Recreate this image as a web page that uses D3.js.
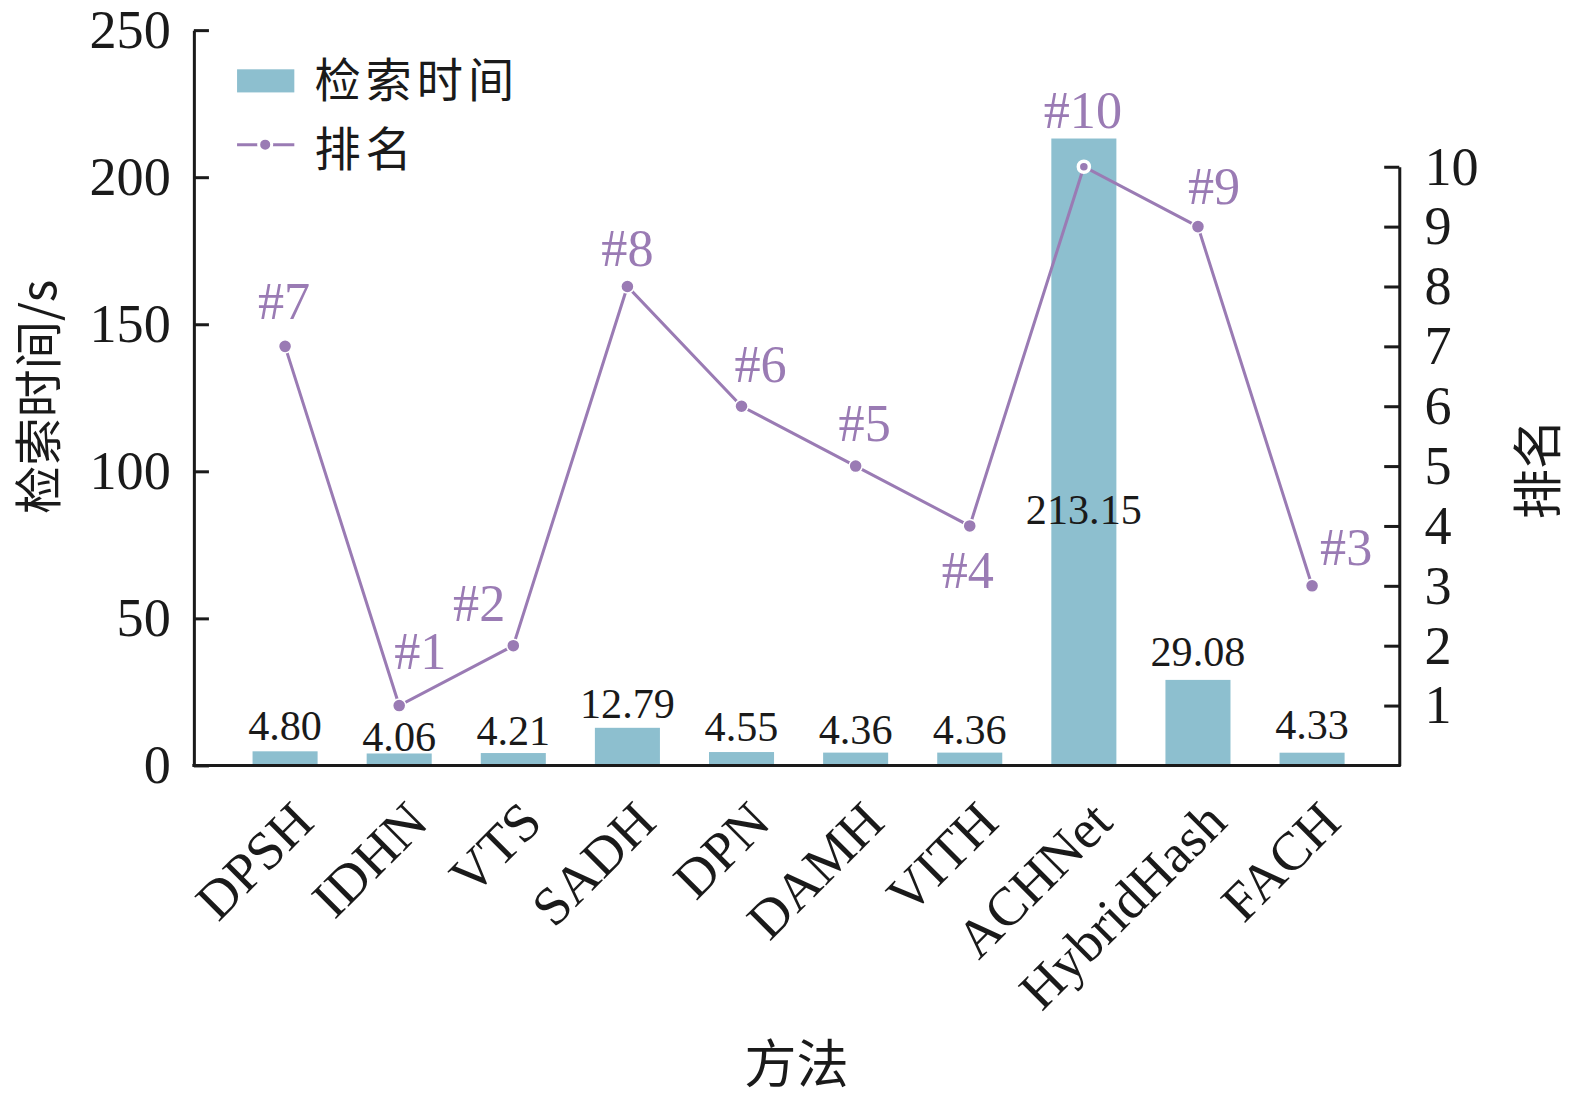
<!DOCTYPE html>
<html>
<head>
<meta charset="utf-8">
<script src="https://cdn.jsdelivr.net/npm/d3@7"></script>
<style>
  html, body { margin: 0; padding: 0; background: #fff; overflow: hidden; }
  svg { display: block; }
  text { font-family: "Liberation Serif", "Times New Roman", "Noto Sans CJK SC", serif; }
  .cjk { font-family: "Noto Sans CJK SC", "Liberation Serif", serif; }
</style>
</head>
<body>
<div id="viz-container"></div>
<script>
// data
let methods = ["DPSH", "IDHN", "VTS", "SADH", "DPN", "DAMH", "VITH", "ACHNet", "HybridHash", "FACH"];
let searchTime = [4.80, 4.06, 4.21, 12.79, 4.55, 4.36, 4.36, 213.15, 29.08, 4.33];
let ranks = [7, 1, 2, 8, 6, 5, 4, 10, 9, 3];
let leftTicks = [0, 50, 100, 150, 200, 250];
let rightTicks = [1, 2, 3, 4, 5, 6, 7, 8, 9, 10];

// label nudges (layout only)
let valueDy = [-11, -2, -8, -10, -11, -9, -9, 384, -14, -14];
let rankDx = [-1, 21, -34, 0, 19, 9, -2, -1, 16, 34];
let rankDy = [-27, -36, -25, -20, -24, -25, 62, -39, -23, -21];

let barColor = "#8dbfcf";
let lineColor = "#9a7bb4";
let axisColor = "#1a1a1a";

let W = 1575, H = 1100;
let plotLeft = 193, plotRight = 1393, plotTop = 30, plotBottom = 762;

let svg = d3.select("#viz-container")
  .append("svg")
    .attr("width", W)
    .attr("height", H)
;
let viz = svg.append("g").attr("transform", "scale(1.0045)");

// step 113.6, first centre near 284
let x = d3.scaleBand()
  .domain(methods)
  .range([227, 1363])
  .paddingInner(0.43)
  .paddingOuter(0.215);

let y = d3.scaleLinear().domain([0, 250]).range([plotBottom, plotTop]);
let yR = d3.scaleLinear().domain([0, 10]).range([plotBottom, 166]);

function cx(d){ return x(d) + x.bandwidth() / 2; }

// bars
viz.selectAll(".bar").data(methods).enter()
  .append("rect")
    .attr("class", "bar")
    .attr("x", d => x(d))
    .attr("width", x.bandwidth())
    .attr("y", (d, i) => y(searchTime[i]))
    .attr("height", (d, i) => plotBottom - y(searchTime[i]))
    .attr("fill", barColor)
;

// value labels
viz.selectAll(".val").data(methods).enter()
  .append("text")
    .attr("class", "val")
    .attr("x", cx)
    .attr("y", (d, i) => y(searchTime[i]) + valueDy[i])
    .attr("text-anchor", "middle")
    .attr("font-size", 42)
    .attr("fill", "#1a1a1a")
    .text((d, i) => searchTime[i].toFixed(2))
;

// rank line
let line = d3.line()
  .x(d => cx(d))
  .y((d, i) => yR(ranks[i]));

viz.append("path")
  .datum(methods)
  .attr("d", line)
  .attr("fill", "none")
  .attr("stroke", lineColor)
  .attr("stroke-width", 3)
;

viz.selectAll(".pt").data(methods).enter()
  .append("circle")
    .attr("class", "pt")
    .attr("cx", cx)
    .attr("cy", (d, i) => yR(ranks[i]))
    .attr("r", (d, i) => ranks[i] == 10 ? 5.5 : 6.5)
    .attr("fill", lineColor)
    .attr("stroke", "#fff")
    .attr("stroke-width", (d, i) => ranks[i] == 10 ? 3.5 : 1.5)
;

viz.selectAll(".rank").data(methods).enter()
  .append("text")
    .attr("class", "rank")
    .attr("x", (d, i) => cx(d) + rankDx[i])
    .attr("y", (d, i) => yR(ranks[i]) + rankDy[i])
    .attr("text-anchor", "middle")
    .attr("font-size", 52)
    .attr("fill", lineColor)
    .text((d, i) => "#" + ranks[i])
;

// axes
let axL = viz.append("g")
  .attr("transform", "translate(" + plotLeft + ",0)")
  .call(d3.axisLeft(y).tickValues(leftTicks).tickSizeInner(-15).tickSizeOuter(0).tickPadding(23));

let axR = viz.append("g")
  .attr("transform", "translate(" + plotRight + ",0)")
  .call(d3.axisRight(yR).tickValues(rightTicks).tickSizeInner(-15).tickSizeOuter(0).tickPadding(25));

[axL, axR].forEach(function(ax){
  ax.select(".domain").attr("stroke", axisColor).attr("stroke-width", 3);
  ax.selectAll(".tick line").attr("stroke", axisColor).attr("stroke-width", 3);
  ax.selectAll(".tick text")
    .attr("font-size", 54)
    .attr("fill", "#1a1a1a")
    .attr("font-family", "Liberation Serif, Times New Roman, serif");
});

viz.append("line")
  .attr("x1", plotLeft - 1.5)
  .attr("x2", plotRight + 1.5)
  .attr("y1", plotBottom)
  .attr("y2", plotBottom)
  .attr("stroke", axisColor)
  .attr("stroke-width", 3)
;

// category labels
viz.selectAll(".cat").data(methods).enter()
  .append("text")
    .attr("class", "cat")
    .attr("transform", d => "translate(" + (cx(d) + 31) + "," + 821 + ") rotate(-45)")
    .attr("text-anchor", "end")
    .attr("font-size", 54)
    .attr("fill", "#1a1a1a")
    .text(d => d)
;

// axis titles
viz.append("text")
  .attr("class", "cjk")
  .attr("transform", "translate(56,395) rotate(-90)")
  .attr("text-anchor", "middle")
  .attr("font-size", 48)
  .attr("fill", "#1a1a1a")
  .text("检索时间/s")
;
viz.append("text")
  .attr("class", "cjk")
  .attr("transform", "translate(1549,467) rotate(-90)")
  .attr("text-anchor", "middle")
  .attr("font-size", 50)
  .attr("fill", "#1a1a1a")
  .text("排名")
;
viz.append("text")
  .attr("class", "cjk")
  .attr("x", 793)
  .attr("y", 1078)
  .attr("text-anchor", "middle")
  .attr("font-size", 52)
  .attr("fill", "#1a1a1a")
  .text("方法")
;

// legend
let legend = viz.append("g");
legend.append("rect")
  .attr("x", 236).attr("y", 69)
  .attr("width", 57).attr("height", 23)
  .attr("fill", barColor);
legend.append("text")
  .attr("class", "cjk")
  .attr("x", 313).attr("y", 97)
  .attr("font-size", 46)
  .attr("letter-spacing", 5)
  .attr("fill", "#1a1a1a")
  .text("检索时间");
legend.append("line")
  .attr("x1", 236).attr("x2", 293)
  .attr("y1", 144).attr("y2", 144)
  .attr("stroke", lineColor).attr("stroke-width", 3);
legend.append("circle")
  .attr("cx", 264).attr("cy", 144).attr("r", 6.5)
  .attr("fill", lineColor).attr("stroke", "#fff").attr("stroke-width", 3);
legend.append("text")
  .attr("class", "cjk")
  .attr("x", 313).attr("y", 165)
  .attr("font-size", 46)
  .attr("letter-spacing", 5)
  .attr("fill", "#1a1a1a")
  .text("排名");
</script>
</body>
</html>
